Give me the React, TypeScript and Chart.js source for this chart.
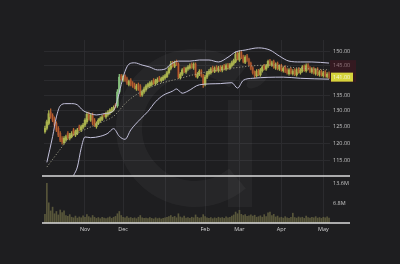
import React, { useEffect, useRef } from 'react';
import { Chart, registerables } from 'chart.js';

Chart.register(...registerables);

// ---------- data ----------
const opens = [
  123.5, 124.5, 126, 129.5, 128.5, 127.5, 126, 124.5, 123, 121.5,
  120.2, 121, 123, 121.5, 122, 124, 122.5, 123, 125, 124,
  124.8, 125.5, 126.5, 129, 127, 128.8, 127, 125, 126, 126.8,
  127.2, 128.8, 128, 128.7, 129.2, 129.7, 130.2, 131.8, 131.5, 136,
  141.5, 140, 141.5, 140.5, 138.5, 140, 139, 138.5, 137, 138.5,
  138, 135, 136, 136.8, 137.8, 138, 138.5, 140, 138.8, 139.5,
  140.8, 139.8, 140.2, 140.8, 141.2, 142.5, 144, 146, 144.8, 146.5,
  145.5, 140.8, 142, 144, 142.8, 143.8, 144.2, 145.5, 144.2, 145.5,
  141, 142, 143.2, 141.5, 138.5, 141, 142.2, 142.5, 144.2, 143,
  144.5, 143.2, 144.5, 143.4, 145, 143.8, 145.3, 144.2, 145, 145.8,
  146.5, 149.5, 147, 149.8, 148.2, 146.2, 148.5, 147.2, 145.8, 144.2,
  142.8, 141.5, 143.2, 141.8, 143.2, 145, 143.8, 144.8, 146.8, 145.2,
  146.5, 144.2, 145.8, 143.8, 145, 143.2, 144.5, 143.5, 142.2, 143.8,
  142.2, 143.5, 141.8, 143.8, 142.5, 143.2, 144.8, 143.2, 145.2, 144.2,
  142.8, 144, 142.2, 143.8, 141.8, 143, 141.5, 142.8, 141.2, 142.2,
];
const highs = [
  125.2, 127, 130, 130.5, 129, 128, 126.5, 125, 123.5, 122,
  122, 122.5, 123.5, 123, 123.5, 124.5, 124, 124.5, 125.5, 125.5,
  126, 127.5, 129.5, 129.5, 129, 129.2, 127.5, 126.5, 127.5, 128,
  128.5, 129, 129.5, 130, 130.5, 131, 131.5, 132.2, 136.8, 142,
  142, 141.8, 141.8, 141, 140, 140.5, 139.5, 139, 138.6, 139,
  138.5, 136.6, 137.6, 138.5, 139, 139.5, 139.8, 140.5, 140.3, 140.8,
  141.3, 141, 141.5, 142, 143, 144.6, 146.5, 146.5, 146.6, 147,
  146, 142.6, 144, 144.5, 144.5, 145, 145.6, 146, 146, 146,
  142.6, 143.6, 143.6, 142, 141.6, 143, 143.6, 144.3, 144.8, 144.6,
  145, 144.8, 145, 145, 145.5, 145.6, 145.8, 145.8, 146.6, 147.3,
  150, 150, 150.3, 150.3, 148.8, 148.6, 149, 147.7, 146.3, 144.7,
  143.2, 143.6, 143.7, 144, 145, 145.5, 145.5, 147, 147.2, 146.6,
  147, 146, 146.3, 145.3, 145.5, 144.6, 145, 144, 144, 144.3,
  143.6, 144, 144, 144.3, 144, 145, 145.3, 145.6, 145.7, 144.7,
  144.3, 144.5, 144, 144.3, 143.3, 143.5, 143, 143.3, 142.6, 142.8,
];
const lows = [
  123, 124, 125.5, 127.5, 126.5, 125, 123.5, 122, 120.5, 119.8,
  119.8, 120.6, 121.2, 121, 121.6, 122.3, 122, 122.6, 123.8, 123.5,
  124.3, 125, 126, 127, 126.6, 125.5, 125, 124.5, 125.6, 126.3,
  126.8, 128, 127.5, 128.2, 128.8, 129.3, 129.8, 130.8, 131, 135.5,
  140, 139.5, 139.5, 138.5, 138, 138, 137.5, 137, 136.5, 136.5,
  134.5, 134.5, 135.5, 136.3, 137.3, 137.5, 138, 138.5, 138.3, 139,
  139.5, 139.3, 139.8, 140.3, 140.8, 142, 143.5, 144.5, 144.3, 145,
  140.5, 140.3, 141.5, 142.5, 142.3, 143.3, 143.8, 144, 143.7, 141,
  140.6, 141.5, 141, 137.5, 138, 140.5, 141.7, 142, 142.7, 142.5,
  143, 142.7, 143, 142.8, 143.5, 143.3, 143.8, 143.7, 144.5, 145.2,
  146, 147, 146.5, 147.5, 146, 145.7, 146.5, 145, 143.5, 142,
  140.8, 141, 141.5, 141.3, 142.7, 143.5, 143.3, 144.3, 145, 144.7,
  144, 143.7, 143.5, 143.3, 143, 142.7, 142.5, 142, 141.7, 142,
  141.7, 141.5, 141.3, 142.3, 142, 142.7, 143, 142.7, 143.5, 142.5,
  142.3, 142, 141.7, 141.5, 141.3, 141.3, 141, 141, 140.7, 140.5,
];
const closes = [
  124.5, 126.5, 129, 128, 127, 125.5, 124, 122.5, 121, 120.5,
  121.5, 122, 121.8, 122.5, 123, 122.8, 123.5, 124, 124.3, 125,
  125.5, 127, 128.8, 127.5, 128.5, 126, 125.5, 126, 127, 127.5,
  128, 128.5, 129, 129.5, 130, 130.5, 131, 131.3, 136, 141,
  140.5, 141.3, 140, 139, 139.5, 138.5, 138, 137.5, 138, 137,
  135, 136, 137, 138, 138.5, 139, 139.3, 139, 139.8, 140.2,
  140, 140.5, 141, 141.5, 142.5, 144, 145.5, 145, 146, 145.5,
  141, 142, 143.5, 143, 144, 144.5, 145, 144.5, 145.5, 141.5,
  142, 143, 141.5, 138.5, 141, 142.5, 143, 143.8, 143.2, 144,
  143.5, 144.2, 143.6, 144.5, 144, 145, 144.4, 145.3, 146, 146.8,
  149, 147.5, 149.5, 148, 146.5, 148, 147, 145.5, 144, 142.5,
  141.5, 143, 142, 143.5, 144.5, 144, 145, 146.5, 145.5, 146,
  144.5, 145.5, 144, 144.8, 143.5, 144, 143, 142.5, 143.5, 142.5,
  143, 142, 143.5, 142.8, 143.5, 144.5, 143.5, 145, 144, 143,
  143.8, 142.5, 143.5, 142, 142.8, 141.8, 142.5, 141.5, 142, 141,
];
// volume in millions
const volumes = [
  3.0, 13.8, 7.0, 4.2, 5.5, 3.2, 4.0, 2.8, 4.5, 3.6,
  4.2, 2.6, 2.3, 2.9, 2.0, 1.8, 2.4, 1.7, 2.1, 1.8,
  2.5, 2.0, 2.9, 2.2, 1.8, 2.6, 2.0, 1.6, 1.9, 1.5,
  2.0, 1.7, 1.5, 1.8, 2.1, 1.6, 2.0, 2.3, 3.2, 4.0,
  2.6, 2.0, 1.8, 2.2, 1.7, 1.9, 1.6, 1.8, 1.5, 2.0,
  2.6, 1.8, 1.6, 1.7, 1.5, 1.9, 1.6, 1.4, 1.8, 1.5,
  1.7, 1.4, 1.6, 1.8, 2.0, 2.2, 2.6, 2.0, 2.3, 1.8,
  3.2, 2.1, 1.8, 2.4, 1.7, 1.9, 1.6, 2.0, 1.8, 2.8,
  2.0, 1.7, 1.9, 2.9, 2.2, 1.8, 1.6, 1.9, 1.5, 1.8,
  1.6, 2.0, 1.7, 1.9, 1.6, 2.1, 1.8, 2.0, 2.4, 2.8,
  3.8, 3.2, 4.4, 3.0, 2.6, 2.9, 2.3, 2.5, 2.8, 2.4,
  2.7, 2.0, 2.2, 2.5, 2.0, 2.9, 2.2, 3.5, 3.8, 2.6,
  3.0, 2.1, 2.4, 1.8, 2.0, 1.7, 2.2, 1.8, 1.6, 2.0,
  3.4, 1.9, 1.7, 2.1, 1.8, 2.0, 1.6, 2.4, 1.9, 1.7,
  2.0, 1.8, 2.2, 1.7, 1.9, 1.6, 2.0, 1.8, 2.1, 1.7,
];

// Bollinger bands (sampled at candle indices)
const upperIdx = [1, 4, 6, 8, 11, 14, 17, 20, 24, 27, 31, 36, 38, 40, 42, 44, 47, 51, 55, 59, 63, 66, 70, 76, 81, 86, 91, 96, 100, 105, 112, 118, 123, 128, 134, 140, 149];
const upperVals = [114.6, 122, 128, 131.5, 132.2, 132.2, 131.8, 130, 129, 128.6, 129, 130, 133.5, 138.5, 143, 145.5, 146, 145.2, 144.5, 143.5, 143.8, 145.5, 146.6, 146.6, 147, 147, 146.3, 148, 149.9, 150.6, 151.4, 150.6, 148.4, 146.6, 146.3, 146.3, 145.9];
const midIdx = [1, 8, 13, 18, 24, 29, 36, 43, 51, 60, 71, 81, 98, 117, 134, 149];
const midVals = [113.3, 118.3, 121.9, 123.3, 124.9, 126.2, 128.2, 132.8, 136.3, 138.7, 140.6, 142.3, 144.1, 145.2, 144.1, 143.5];
const lowerIdx = [15, 17, 19, 21, 24, 29, 33, 36, 39, 42, 45, 50, 54, 58, 62, 67, 69, 72, 75, 81, 92, 98, 101, 104, 109, 125, 134, 149];
const lowerVals = [111, 113.3, 118.6, 121.9, 121.7, 122.1, 123, 124.4, 122.1, 121.2, 124, 127.3, 129.7, 132.8, 134.9, 136.3, 137, 135.6, 136.3, 138.4, 138.8, 139.1, 137.3, 139.9, 140.6, 141, 140.6, 140.3];

// axes
const priceTicks = [115, 120, 125, 130, 135, 140, 145, 150];
const hiddenPriceTicks = [140];
const volumeTicks = [6.8, 13.6];
const monthTickIndex = [21, 41, 63, 84, 102, 124, 146];
const monthTickLabel = ['Nov', 'Dec', '', 'Feb', 'Mar', 'Apr', 'May'];
const lastPrice = 141;
const lastPriceLabel = '141.00';

// ---------- styles ----------
const BG = '#1e1e20';
const GRID = '#2b2b2e';
const FONT = "'Open Sans', 'Noto Sans', sans-serif";
const UP = '#a9b24e';
const DOWN_BODY = '#74302a';
const DOWN_WICK = '#b5622e';
const STRONG_UP = '#86c07c';
const BAND = '#c4c2dc';
const MID = '#b0ae98';
const VOL = 'rgba(112,110,70,0.7)';

const overlay = {
  id: 'overlay',
  beforeDatasetsDraw(chart: any) {
    const ctx = chart.ctx;
    ctx.save();
    ctx.strokeStyle = 'rgba(255,255,255,0.04)';
    ctx.fillStyle = 'rgba(255,255,255,0.04)';
    ctx.lineWidth = 26;
    ctx.beginPath();
    ctx.arc(195, 128, 66, (50 * Math.PI) / 180, (310 * Math.PI) / 180);
    ctx.stroke();
    ctx.fillRect(228, 100, 24, 107);
    ctx.beginPath();
    ctx.ellipse(257, 80, 12, 6, -0.6, 0, Math.PI * 2);
    ctx.fill();
    ctx.restore();
  },
  afterDraw(chart: any) {
    const ctx = chart.ctx;
    const { left, right } = chart.chartArea;
    const y = chart.scales.y;
    const yv = chart.scales.yv;
    ctx.save();
    // band range tint on axis
    const yTop = y.getPixelForValue(upperVals[upperVals.length - 1]);
    const yBot = y.getPixelForValue(lowerVals[lowerVals.length - 1]);
    ctx.fillStyle = 'rgba(80,20,34,0.45)';
    ctx.fillRect(right, yTop - 3, 26, yBot - yTop + 6);
    // separators
    ctx.strokeStyle = '#dadada';
    ctx.lineWidth = 1.5;
    ctx.beginPath();
    ctx.moveTo(left - 2, y.bottom);
    ctx.lineTo(350, y.bottom);
    ctx.moveTo(left - 2, yv.bottom);
    ctx.lineTo(350, yv.bottom);
    ctx.stroke();
    // last price tag
    const py = y.getPixelForValue(lastPrice);
    ctx.fillStyle = '#d6d33c';
    ctx.fillRect(right + 1, py - 4.5, 22, 9);
    ctx.fillStyle = '#f6f6dc';
    ctx.font = `5.5px ${FONT}`;
    ctx.textBaseline = 'middle';
    ctx.textAlign = 'left';
    ctx.fillText(lastPriceLabel, right + 3, py + 0.5);
    ctx.restore();
  },
};

export default function App() {
  const ref = useRef<HTMLCanvasElement>(null);
  useEffect(() => {
    document.body.style.margin = '0';
    document.body.style.background = BG;
    const labels = closes.map((_, i) => i);
    const isStrong = closes.map((c, i) => c - opens[i] > 3);
    const isUp = closes.map((c, i) => c >= opens[i]);
    const bodyColors = closes.map((_, i) => (isStrong[i] ? STRONG_UP : isUp[i] ? UP : DOWN_BODY));
    const wickColors = closes.map((_, i) => (isStrong[i] ? STRONG_UP : isUp[i] ? UP : DOWN_WICK));
    const bodyWidths = closes.map((_, i) => (isUp[i] ? 1.0 : 1.8));
    const tickFont = { size: 5.5, family: FONT };
    const chart = new Chart(ref.current as HTMLCanvasElement, {
      type: 'bar',
      data: {
        labels,
        datasets: [
          {
            type: 'line',
            data: upperIdx.map((x, k) => ({ x, y: upperVals[k] })),
            yAxisID: 'y',
            borderColor: BAND,
            borderWidth: 1,
            pointRadius: 0,
            cubicInterpolationMode: 'monotone',
          } as any,
          {
            type: 'line',
            data: lowerIdx.map((x, k) => ({ x, y: lowerVals[k] })),
            yAxisID: 'y',
            borderColor: BAND,
            borderWidth: 1,
            pointRadius: 0,
            cubicInterpolationMode: 'monotone',
          } as any,
          {
            type: 'line',
            data: midIdx.map((x, k) => ({ x, y: midVals[k] })),
            yAxisID: 'y',
            borderColor: MID,
            borderWidth: 0.8,
            borderDash: [1.2, 1.8],
            pointRadius: 0,
            cubicInterpolationMode: 'monotone',
          } as any,
          {
            type: 'bar',
            data: lows.map((l, i) => [l, highs[i]]),
            yAxisID: 'y',
            backgroundColor: wickColors,
            barThickness: 0.6,
            grouped: false,
          } as any,
          {
            type: 'bar',
            data: closes.map((c, i) => [Math.min(c, opens[i]), Math.max(c, opens[i])]),
            yAxisID: 'y',
            backgroundColor: bodyColors,
            barThickness: bodyWidths,
            grouped: false,
          } as any,
          {
            type: 'bar',
            data: volumes,
            yAxisID: 'yv',
            backgroundColor: VOL,
            barThickness: 1.0,
            grouped: false,
          } as any,
        ],
      },
      options: {
        responsive: false,
        animation: false,
        devicePixelRatio: 1,
        layout: { padding: { left: 44, top: 40, right: 0, bottom: 0 } },
        plugins: { legend: { display: false }, tooltip: { enabled: false } },
        scales: {
          x: {
            type: 'category',
            offset: true,
            grid: { color: GRID, offset: false, drawTicks: false },
            border: { display: false },
            ticks: {
              autoSkip: false,
              maxRotation: 0,
              padding: 3,
              color: '#d4d4d4',
              font: tickFont,
              callback: (v: any) => {
                const k = monthTickIndex.indexOf(Number(v));
                return k >= 0 ? monthTickLabel[k] : '';
              },
            },
            afterBuildTicks: (s: any) => {
              s.ticks = monthTickIndex.map((v) => ({ value: v }));
            },
            afterFit: (s: any) => {
              s.height = 41;
            },
          },
          y: {
            type: 'logarithmic',
            position: 'right',
            stack: 'pane',
            stackWeight: 136,
            min: 110.86,
            max: 154.33,
            grid: { color: GRID, drawTicks: false },
            border: { display: false },
            ticks: {
              padding: 3,
              color: '#c4c4c4',
              font: tickFont,
              callback: (v: any) => (hiddenPriceTicks.includes(Number(v)) ? '' : Number(v).toFixed(2)),
            },
            afterBuildTicks: (s: any) => {
              s.ticks = priceTicks.map((v) => ({ value: v }));
            },
            afterFit: (s: any) => {
              s.width = 70;
            },
          },
          yv: {
            type: 'linear',
            position: 'right',
            stack: 'pane',
            stackWeight: 47,
            min: 0,
            max: 16.3,
            grid: { display: false, drawTicks: false },
            border: { display: false },
            ticks: {
              padding: 3,
              color: '#c4c4c4',
              font: tickFont,
              callback: (v: any) => `${v}M`,
            },
            afterBuildTicks: (s: any) => {
              s.ticks = volumeTicks.map((v) => ({ value: v }));
            },
            afterFit: (s: any) => {
              s.width = 70;
            },
          },
        } as any,
      },
      plugins: [overlay],
    } as any);
    return () => chart.destroy();
  }, []);
  return (
    <div style={{ width: 400, height: 264, background: BG }}>
      <canvas ref={ref} width={400} height={264} style={{ display: 'block' }} />
    </div>
  );
}
